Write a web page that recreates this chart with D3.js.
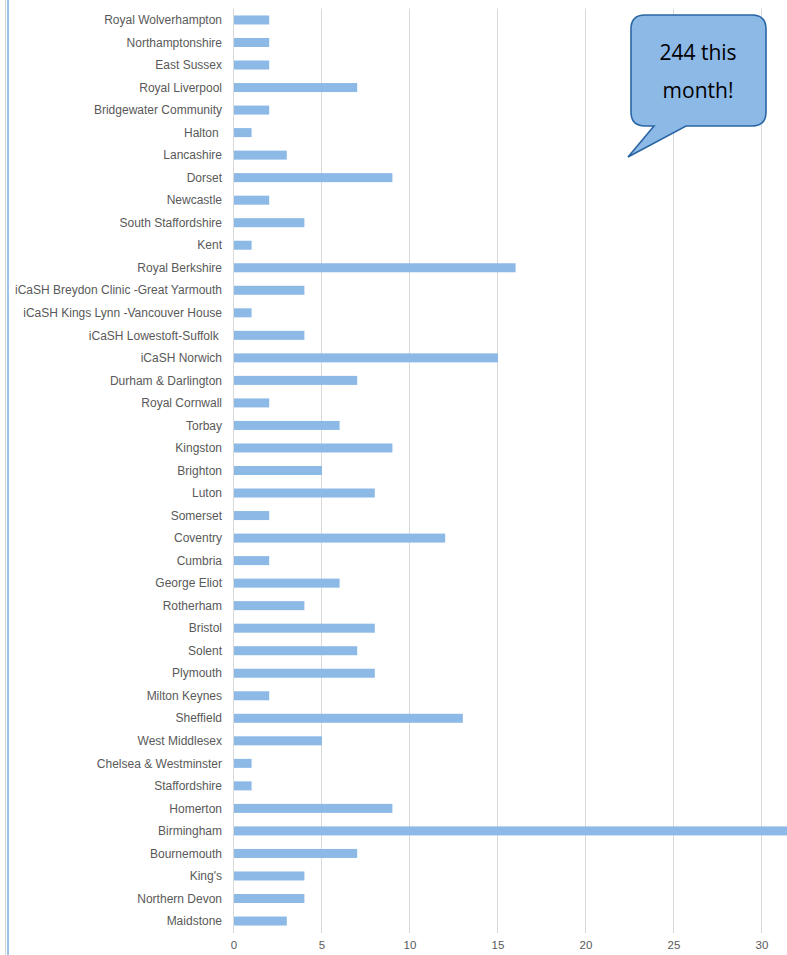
<!DOCTYPE html>
<html><head><meta charset="utf-8">
<script src="https://cdn.jsdelivr.net/npm/d3@7/dist/d3.min.js"></script>
<style>
html,body{margin:0;padding:0;background:#fff;overflow:hidden;}
svg{display:block;}
</style></head><body>
<script>
const categories = ["Royal Wolverhampton","Northamptonshire","East Sussex","Royal Liverpool","Bridgewater Community","Halton ","Lancashire","Dorset","Newcastle","South Staffordshire","Kent","Royal Berkshire","iCaSH Breydon Clinic -Great Yarmouth","iCaSH Kings Lynn -Vancouver House","iCaSH Lowestoft-Suffolk ","iCaSH Norwich","Durham & Darlington","Royal Cornwall","Torbay","Kingston","Brighton","Luton","Somerset","Coventry","Cumbria","George Eliot","Rotherham","Bristol","Solent","Plymouth","Milton Keynes","Sheffield","West Middlesex","Chelsea & Westminster","Staffordshire","Homerton","Birmingham","Bournemouth","King's","Northern Devon","Maidstone"];
const values = [2,2,2,7,2,1,3,9,2,4,1,16,4,1,4,15,7,2,6,9,5,8,2,12,2,6,4,8,7,8,2,13,5,1,1,9,34,7,4,4,3];
const tickValues = [0,5,10,15,20,25,30];
const calloutLines = ["244 this","month!"];

const W = 787, H = 955;
const svg = d3.select("body").append("svg").attr("width", W).attr("height", H);

// left border
svg.append("line").attr("x1",5.5).attr("x2",5.5).attr("y1",0).attr("y2",H).attr("stroke","#d4d4d4").attr("stroke-width",1);
svg.append("line").attr("x1",8).attr("x2",8).attr("y1",0).attr("y2",H).attr("stroke","#9cc3ec").attr("stroke-width",2);

const x = d3.scaleLinear().domain([0,30]).range([233.5,761.5]);
const y = d3.scaleBand().domain(categories).range([8.7,932.3]).paddingInner(0.6).paddingOuter(0.3);

// gridlines
svg.append("g").selectAll("line").data(tickValues).join("line")
  .attr("x1",d=>x(d)).attr("x2",d=>x(d)).attr("y1",8.5).attr("y2",933)
  .attr("stroke","#d9d9d9").attr("stroke-width",1);

// bars
svg.append("g").selectAll("rect").data(values).join("rect")
  .attr("x", x(0)+0.5)
  .attr("y", (d,i)=>y(categories[i]))
  .attr("width", d=>x(d)-x(0))
  .attr("height", y.bandwidth())
  .attr("fill","#8db9e7");

// category labels
svg.append("g").selectAll("text").data(categories).join("text")
  .attr("x",222).attr("y",d=>y(d)+y.bandwidth()/2)
  .attr("dy","0.35em").attr("text-anchor","end")
  .style("white-space","pre")
  .attr("font-family","'Liberation Sans',Arial,sans-serif")
  .attr("font-size",12).attr("fill","#595959")
  .text(d=>d);

// x-axis tick labels
const xAxis = d3.axisBottom(x).tickValues(tickValues).tickSize(0).tickPadding(0);
const ax = svg.append("g").attr("transform","translate(0,941)").call(xAxis);
ax.select(".domain").remove();
ax.selectAll("text").attr("font-family","'Liberation Sans',sans-serif").attr("font-size",11.5).attr("fill","#595959").attr("dy","0.71em");

// callout
const r = 14, L=631, R=766, T=15, B=126;
const tailL=654, tailR=686, tipX=628, tipY=157;
const path = `M${L+r},${T} H${R-r} Q${R},${T} ${R},${T+r} V${B-r} Q${R},${B} ${R-r},${B} H${tailR} L${tipX},${tipY} L${tailL},${B} H${L+r} Q${L},${B} ${L},${B-r} V${T+r} Q${L},${T} ${L+r},${T} Z`;
svg.append("path").attr("d",path).attr("fill","#8db9e7").attr("stroke","#2a66a3").attr("stroke-width",1.6);
svg.append("g").selectAll("text").data(calloutLines).join("text")
  .attr("x",698).attr("y",(d,i)=>60+i*38).attr("text-anchor","middle")
  .attr("font-family","'Open Sans','Noto Sans',sans-serif").attr("font-size",21).attr("fill","#000")
  .text(d=>d);
</script>
</body></html>
